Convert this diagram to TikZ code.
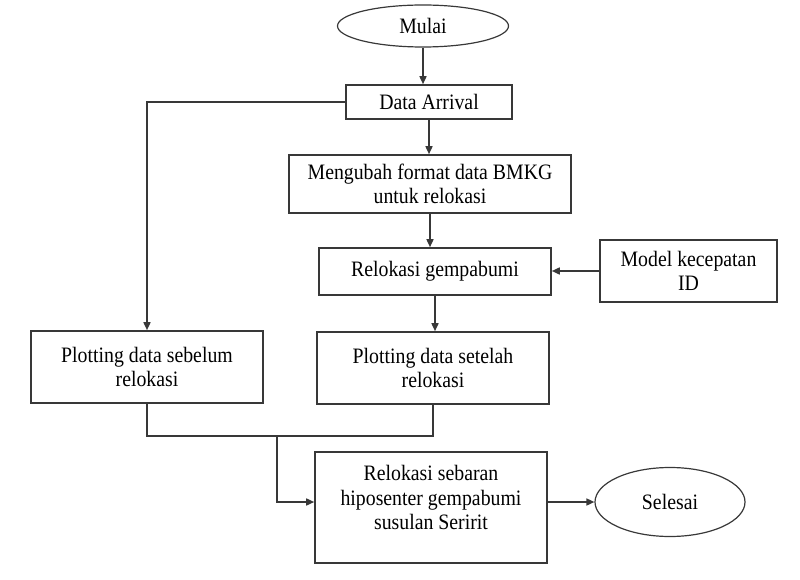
\documentclass[tikz,border=0pt]{standalone}
\usepackage{fontspec}
\setmainfont{Liberation Serif}[FakeStretch=0.9]
\usetikzlibrary{shapes.geometric,arrows.meta}
\begin{document}
\begin{tikzpicture}[x=1pt,y=-1pt,
  txt/.style={font=\fontsize{22}{24.5}\selectfont, align=center},
  line/.style={draw=black!78, line width=1.6pt},
  arr/.style={line, -{Triangle[length=8pt,width=7pt]}},
  box/.style={draw=black!78, line width=1.6pt, rectangle, inner sep=0pt, txt},
  term/.style={draw=black!78, line width=1.2pt, ellipse, inner sep=0pt, txt}]
\useasboundingbox (0,0) rectangle (800,580);
\node[term, minimum width=171pt, minimum height=42pt] (mulai) at (423,26) {Mulai};
\node[box, minimum width=166pt, minimum height=34pt] (da) at (429,102) {Data Arrival};
\node[box, minimum width=282pt, minimum height=58pt] (mf) at (430,184) {Mengubah format data BMKG\\untuk relokasi};
\node[box, minimum width=232pt, minimum height=47pt] (rg) at (435,271.5) {Relokasi gempabumi};
\node[box, minimum width=177pt, minimum height=62pt] (mk) at (688.5,271) {Model kecepatan\\ID};
\node[box, minimum width=232pt, minimum height=72pt] (ps) at (147,367) {Plotting data sebelum\\relokasi};
\node[box, minimum width=232pt, minimum height=72pt] (pa) at (433,368) {Plotting data setelah\\relokasi};
\node[box, minimum width=232pt, minimum height=111pt,
  label={[txt, yshift=10pt]center:{Relokasi sebaran\\hiposenter gempabumi\\susulan Seririt}}] (rs) at (431,507.5) {};
\node[term, minimum width=150pt, minimum height=69pt] (selesai) at (670,502) {Selesai};
\coordinate (m) at (277,436);

\draw[arr] (mulai.south) -- (mulai.south |- da.north);
\draw[arr] (da.south) -- (da.south |- mf.north);
\draw[arr] (mf.south) -- (mf.south |- rg.north);
\draw[arr] (mk.west) -- (mk.west -| rg.east);
\draw[arr] (rg.south) -- (rg.south |- pa.north);
\draw[arr] (da.west) -- (ps.north |- da.west) -- (ps.north);
\draw[line] (ps.south) -- (ps.south |- m) -- (pa.south |- m) -- (pa.south);
\draw[arr] (m) -- (m |- selesai.west) -- (rs.west |- selesai.west);
\draw[arr] (rs.east |- selesai.west) -- (selesai.west);
\end{tikzpicture}
\end{document}
